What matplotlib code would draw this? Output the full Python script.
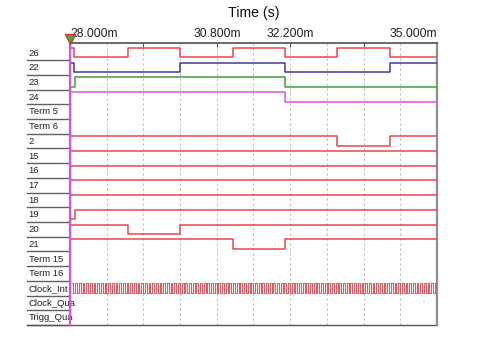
import numpy as np
import matplotlib
matplotlib.use('Agg')
import matplotlib.pyplot as plt
import matplotlib.transforms as mtransforms

plt.rcParams['font.family'] = ['Liberation Sans', 'DejaVu Sans']

# time axis (ms)
t_start = 28.0
t_end = 35.0
tick_vals = [28.0, 30.8, 32.2, 35.0]
tick_labels = ['28.000m', '30.800m', '32.200m', '35.000m']

row_labels = ['26', '22', '23', '24', 'Term 5', 'Term 6', '2', '15', '16', '17',
              '18', '19', '20', '21', 'Term 15', 'Term 16', 'Clock_Int',
              'Clock_Qua', 'Trigg_Qua']

# signal edges: times (ms) and levels (1 = high, 0 = low)
s26_t = [28.0, 28.08, 29.1, 30.1, 31.1, 32.1, 33.1, 34.1]
s26_v = [1, 0, 1, 0, 1, 0, 1, 0]
s22_t = [28.0, 28.08, 30.1, 32.1, 34.1]
s22_v = [1, 0, 1, 0, 1]
s23_t = [28.0, 28.1, 32.1]
s23_v = [0, 1, 0]
s24_t = [28.0, 32.1]
s24_v = [1, 0]
s2_t = [28.0, 33.1, 34.1]
s2_v = [1, 0, 1]
s15_t, s15_v = [28.0], [1]
s16_t, s16_v = [28.0], [1]
s17_t, s17_v = [28.0], [1]
s18_t, s18_v = [28.0], [1]
s19_t = [28.0, 28.1]
s19_v = [0, 1]
s20_t = [28.0, 29.1, 30.1]
s20_v = [1, 0, 1]
s21_t = [28.0, 31.1, 32.1]
s21_v = [1, 0, 1]

# Clock_Int: square wave
clk_start = 28.03
clk_period = 0.07

RED = '#e8464b'
BLUE = '#3c3c9c'
GREEN = '#3e9e3e'
MAGENTA = '#e050e0'

signals = [
    ('26', s26_t, s26_v, RED),
    ('22', s22_t, s22_v, BLUE),
    ('23', s23_t, s23_v, GREEN),
    ('24', s24_t, s24_v, MAGENTA),
    ('2', s2_t, s2_v, RED),
    ('15', s15_t, s15_v, RED),
    ('16', s16_t, s16_v, RED),
    ('17', s17_t, s17_v, RED),
    ('18', s18_t, s18_v, RED),
    ('19', s19_t, s19_v, RED),
    ('20', s20_t, s20_v, RED),
    ('21', s21_t, s21_v, RED),
]

W, H = 484, 338
fig = plt.figure(figsize=(W / 100, H / 100), dpi=100)
ax = fig.add_axes([70 / W, 13 / H, 367 / W, 282 / H])
ax.set_xlim(t_start, t_end)
ax.set_ylim(len(row_labels), -0.16)
ax.set_yticks([])
for s in ['left', 'bottom']:
    ax.spines[s].set_visible(False)
ax.spines['top'].set_color('#505050')
ax.spines['top'].set_linewidth(1.2)
ax.spines['right'].set_color('#909090')
ax.spines['right'].set_linewidth(1.6)

ax.xaxis.tick_top()
ax.set_xticks(np.arange(29.4, 34.0, 1.4))
ax.tick_params(axis='x', direction='in', length=3, width=0.8, colors='#505050',
               labeltop=False, labelbottom=False)

def lvl(row, v):
    return row + 0.82 - 0.64 * np.asarray(v, dtype=float)

# dashed grid
for g in np.arange(t_start + 0.7, t_end - 0.01, 0.7):
    ax.plot([g, g], [-0.16, len(row_labels)], color='#bcbcbc', lw=0.8,
            ls=(0, (2, 2.5)), zorder=1)

for name, ts, vs, col in signals:
    row = row_labels.index(name)
    ax.plot(list(ts) + [t_end], lvl(row, list(vs) + [vs[-1]]),
            drawstyle='steps-post', color=col, lw=1.1, zorder=3)

# clock
row = row_labels.index('Clock_Int')
edges = np.arange(clk_start, t_end, clk_period / 2)
levels = np.arange(len(edges)) % 2 == 0
ax.plot(np.append(edges, t_end), lvl(row, np.append(levels, levels[-1])),
        drawstyle='steps-post', color=RED, lw=0.8, alpha=0.9, zorder=3)

# row labels and separators
trans = mtransforms.blended_transform_factory(ax.transAxes, ax.transData)
x_lab = -0.117
for i, lab in enumerate(row_labels):
    ax.text(x_lab + 0.004, i + 0.52, lab, transform=trans, ha='left', va='center',
            fontsize=6.8, color='#222222', clip_on=False)
    ax.plot([x_lab, 0], [i + 1, i + 1], transform=trans, color='#606060',
            lw=1.0, clip_on=False)
ax.plot([x_lab, 1], [len(row_labels), len(row_labels)], transform=trans,
        color='#555555', lw=1.0, clip_on=False)

# cursor line and marker
ax.plot([t_start, t_start], [-0.3, len(row_labels)], color=MAGENTA, lw=1.6,
        clip_on=False, zorder=4)
ax.plot([t_start], [-0.42], marker='v', markersize=7, markerfacecolor='#40b040',
        markeredgecolor='#e03030', markeredgewidth=1.0, clip_on=False, zorder=5)

# tick labels
ttrans = mtransforms.blended_transform_factory(ax.transData, ax.transAxes)
aligns = ['left', 'center', 'center', 'right']
for v, lab, ha in zip(tick_vals, tick_labels, aligns):
    ax.text(v, 1.033, lab, transform=ttrans, ha=ha, va='center', fontsize=8.7,
            color='#222222')

fig.text(254 / W, 1 - 12.5 / H, 'Time (s)', ha='center', va='center',
         fontsize=10.2, color='#111111')

fig.savefig('out.png', dpi=100)
